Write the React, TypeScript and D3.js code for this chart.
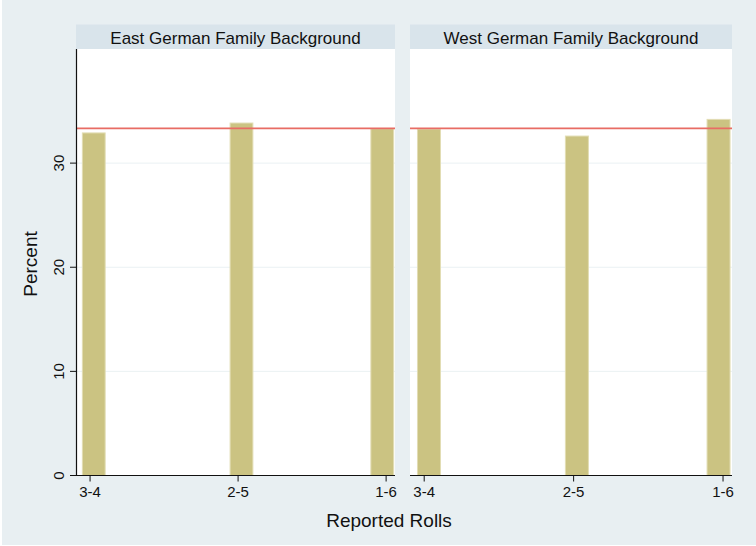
import React from "react";
import * as d3 from "d3";

// panels, categories and bar data (percent)
const panels = ["East German Family Background", "West German Family Background"];
const rollLabels = ["3-4", "2-5", "1-6"];
const rollTicks = [1, 2, 3];
const eastPercent = [32.9, 33.85, 33.3];
const westPercent = [33.27, 32.6, 34.2];
const eastBinStart = [0.948, 1.946, 2.897];
const westBinStart = [0.955, 1.945, 2.893];
const binWidth = 0.154;
const yTicks = [0, 10, 20, 30];
const expected = 100 / 3;

const W = 756;
const H = 546;
const font = "'Liberation Sans', Arial, Helvetica, sans-serif";

const App = () => {
  const top = 49;
  const bottom = 475.5;
  const stripH = 24.5;
  const panelX = [
    [76, 395],
    [410, 732],
  ];
  const series = [
    { values: eastPercent, starts: eastBinStart },
    { values: westPercent, starts: westBinStart },
  ];

  const y = d3.scaleLinear().domain([0, 40.96]).range([bottom, top]);

  return (
    <svg
      width={W}
      height={H}
      style={{ position: "absolute", left: 0, top: 0 }}
      fontFamily={font}
    >
      <rect x={0} y={0} width={W} height={H} fill="#ffffff" />
      <rect x={2} y={0} width={W - 2} height={H - 1} fill="#e8eff2" />

      {panels.map((title, p) => {
        const [x0, x1] = panelX[p];
        const x = d3.scaleLinear().domain([0.905, 3.06]).range([x0, x1]);
        const { values, starts } = series[p];
        return (
          <g key={title}>
            <rect x={x0} y={top - stripH} width={x1 - x0} height={stripH} fill="#d9e4eb" />
            <text
              x={(x0 + x1) / 2}
              y={43.5}
              textAnchor="middle"
              fontSize={17}
              fill="#111"
            >
              {title}
            </text>
            <rect x={x0} y={top} width={x1 - x0} height={bottom - top} fill="#ffffff" />
            {yTicks
              .filter((t) => t > 0)
              .map((t) => (
                <line
                  key={t}
                  x1={x0}
                  x2={x1}
                  y1={y(t)}
                  y2={y(t)}
                  stroke="#eaf1f3"
                  strokeWidth={1}
                />
              ))}
            {values.map((v, i) => (
              <rect
                key={i}
                x={x(starts[i])}
                y={y(v)}
                width={x(starts[i] + binWidth) - x(starts[i])}
                height={y(0) - y(v)}
                fill="#cbc382"
                stroke="#e2ddb4"
                strokeWidth={1}
              />
            ))}
            <line
              x1={x0}
              x2={x1}
              y1={y(expected)}
              y2={y(expected)}
              stroke="#e86c64"
              strokeWidth={1.6}
            />
            {/* x axis */}
            <line x1={x0} x2={x1} y1={bottom} y2={bottom} stroke="#111" strokeWidth={1.2} />
            {rollTicks.map((t, i) => (
              <g key={t}>
                <line x1={x(t)} x2={x(t)} y1={bottom} y2={bottom + 6} stroke="#111" />
                <text x={x(t)} y={497} textAnchor="middle" fontSize={15} fill="#111">
                  {rollLabels[i]}
                </text>
              </g>
            ))}
          </g>
        );
      })}

      {/* y axis on left panel */}
      <line x1={76.5} x2={76.5} y1={top} y2={bottom} stroke="#111" strokeWidth={1.2} />
      {yTicks.map((t) => (
        <g key={t}>
          <line x1={70} x2={76.5} y1={y(t)} y2={y(t)} stroke="#111" />
          <text
            transform={`translate(63.5,${y(t)}) rotate(-90)`}
            textAnchor="middle"
            fontSize={15}
            fill="#111"
          >
            {t}
          </text>
        </g>
      ))}
      <text
        transform={`translate(36.5,264) rotate(-90)`}
        textAnchor="middle"
        fontSize={19}
        fill="#111"
      >
        Percent
      </text>
      <text x={389} y={527} textAnchor="middle" fontSize={19} fill="#111">
        Reported Rolls
      </text>
    </svg>
  );
};

export default App;
